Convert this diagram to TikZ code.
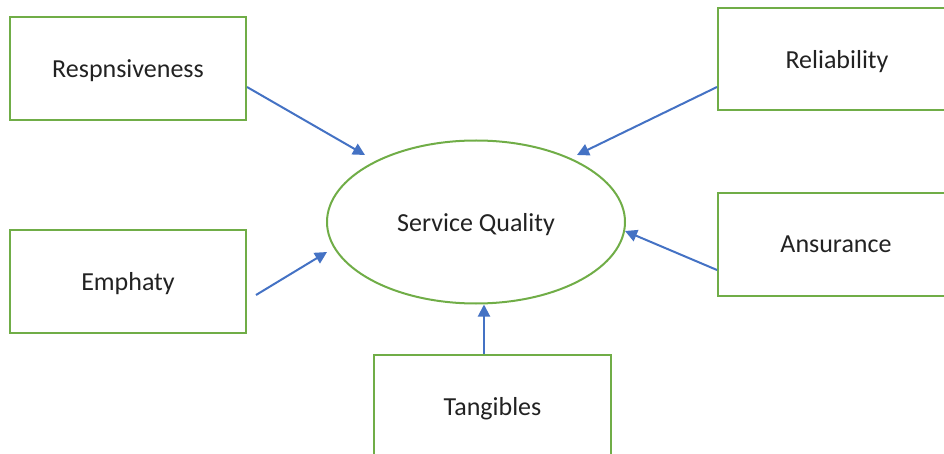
\documentclass[tikz,border=0pt]{standalone}
\usepackage{fontspec}
\setmainfont{Carlito}
\usetikzlibrary{arrows.meta,calc,shapes.geometric}
\definecolor{boxgreen}{HTML}{70AD47}
\definecolor{arrblue}{HTML}{4472C4}
\definecolor{txt}{HTML}{222222}
\begin{document}
\begin{tikzpicture}[x=1pt,y=-1pt,
  factor/.style={draw=boxgreen,line width=2pt,rectangle,minimum width=236pt,minimum height=103pt,inner sep=0pt,text depth=0pt,text=txt,font=\fontsize{26}{30}\selectfont},
  core/.style={draw=boxgreen,line width=2pt,ellipse,minimum width=298pt,minimum height=163pt,inner sep=0pt,text depth=0pt,text=txt,font=\fontsize{26}{30}\selectfont},
  link/.style={draw=arrblue,line width=2pt,-{Triangle[length=12pt,width=12pt]}}]
\useasboundingbox (0,0) rectangle (944,454);
\begin{scope}
\clip (0,0) rectangle (944,454);
\node[core] (sq) at (476,222) {Service Quality};
\node[factor] (resp) at (128,68.5) {Respnsiveness};
\node[factor,minimum width=238pt,minimum height=102pt] (rel) at (837,59) {Reliability};
\node[factor] (emp) at (128,281.5) {Emphaty};
\node[factor] (ans) at (836,244.5) {Ansurance};
\node[factor,minimum width=237pt] (tan) at (492.5,406.5) {Tangibles};
\end{scope}
\draw[link] ($(resp.east)+(0,18.5)$) -- ($(sq.center)+(-111,-67)$);
\draw[link] ($(rel.west)+(0,28)$) -- ($(sq.center)+(101,-67)$);
\draw[link] ($(emp.east)+(9,13.5)$) -- ($(sq.center)+(-149,30)$);
\draw[link] ($(ans.west)+(0,25.5)$) -- ($(sq.center)+(149,9)$);
\draw[link] ($(tan.north)+(-8.5,0)$) -- ($(sq.south)+(8,0)$);
\end{tikzpicture}
\end{document}
